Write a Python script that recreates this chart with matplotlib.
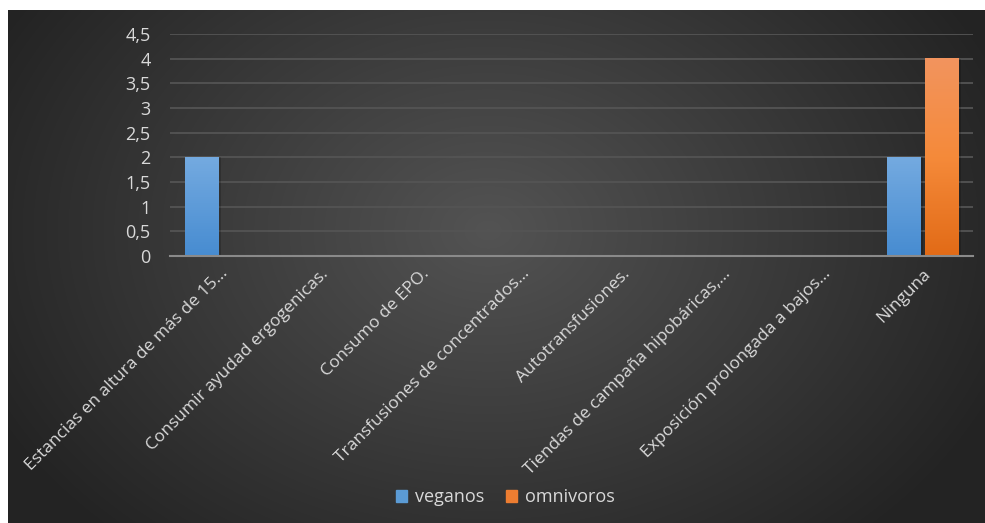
import numpy as np
import matplotlib
matplotlib.use("Agg")
import matplotlib.pyplot as plt
from matplotlib.colors import LinearSegmentedColormap

categories = [
    "Estancias en altura de más de 15…",
    "Consumir ayudad ergogenicas.",
    "Consumo de EPO.",
    "Transfusiones de concentrados…",
    "Autotransfusiones.",
    "Tiendas de campaña hipobáricas,…",
    "Exposición prolongada a bajos…",
    "Ninguna",
]
veganos = [2, 0, 0, 0, 0, 0, 0, 2]
omnivoros = [0, 0, 0, 0, 0, 0, 0, 4]
yticks = [0, 0.5, 1, 1.5, 2, 2.5, 3, 3.5, 4, 4.5]
ylabels = ["0", "0,5", "1", "1,5", "2", "2,5", "3", "3,5", "4", "4,5"]

plt.rcParams['font.family'] = ['Open Sans', 'DejaVu Sans']
txt = "#d9d9d9"

W, H = 985, 523
fig = plt.figure(figsize=(W / 100, H / 100), dpi=100)
fig.patch.set_facecolor("white")

# dark radial background
bg = fig.add_axes([8 / W, 0, 977 / W, 513 / H])
bg.set_axis_off()
yy, xx = np.mgrid[0:513, 0:977]
r = np.sqrt(((xx - 480) / 560) ** 2 + ((yy - 220) / 420) ** 2)
r = np.clip(r, 0, 1)
bgmap = LinearSegmentedColormap.from_list("bg", ["#535353", "#3b3b3b", "#232323"])
bg.imshow(r, cmap=bgmap, aspect="auto", extent=[0, 1, 0, 1], origin="upper")
bg.set_xlim(0, 1)
bg.set_ylim(0, 1)

ax = fig.add_axes([170 / W, (H - 256) / H, 803 / W, 222 / H])
ax.patch.set_alpha(0)
x = np.arange(len(categories))
bw = 0.33
b1 = ax.bar(x - 0.19, veganos, bw, color="#5b9bd5", zorder=3)
b2 = ax.bar(x + 0.19, omnivoros, bw, color="#ed7d31", zorder=3)

grad = np.linspace(0, 1, 100).reshape(-1, 1)
blue = LinearSegmentedColormap.from_list("b", ["#478cd1", "#74aae0"])
orange = LinearSegmentedColormap.from_list("o", ["#e26b17", "#f58a3a", "#f2945e"])
for bars, cm in ((b1, blue), (b2, orange)):
    for p in bars:
        h = p.get_height()
        if h <= 0:
            continue
        x0, w = p.get_x(), p.get_width()
        # soft shadow
        ax.bar(x0 + w / 2 + 0.03, h, w, color="black", alpha=0.18, zorder=2)
        ax.imshow(grad, cmap=cm, aspect="auto", origin="lower",
                  extent=[x0, x0 + w, 0, h], zorder=4)
        p.set_visible(False)

ax.set_xlim(-0.5, len(categories) - 0.5)
ax.set_ylim(0, 4.5)
ax.set_yticks(yticks)
ax.set_yticklabels(ylabels, fontsize=13)
ax.set_xticks(x)
ax.set_xticklabels(categories, rotation=45, ha="right", rotation_mode="anchor",
                   fontsize=12.5)
ax.tick_params(axis="both", length=0, colors=txt)
ax.tick_params(axis="y", pad=14)
ax.tick_params(axis="x", pad=7)
ax.grid(axis="y", color="#545454", linewidth=1.3, zorder=0)
for s in ["top", "right", "left"]:
    ax.spines[s].set_visible(False)
ax.spines["bottom"].set_color("#8a8a8a")
ax.spines["bottom"].set_linewidth(1.5)
ax.spines["bottom"].set_zorder(5)

# legend
handles = [plt.Rectangle((0, 0), 1, 1, color="#5b9bd5"),
           plt.Rectangle((0, 0), 1, 1, color="#ed7d31")]
fig.legend(handles, ["veganos", "omnivoros"], loc="center",
           bbox_to_anchor=(505 / W, 1 - 497 / H), ncol=2, frameon=False,
           fontsize=13, labelcolor=txt, handlelength=0.65, handleheight=0.65,
           handletextpad=0.4, columnspacing=1.2)

fig.savefig("out.png", dpi=100, facecolor=fig.get_facecolor())
